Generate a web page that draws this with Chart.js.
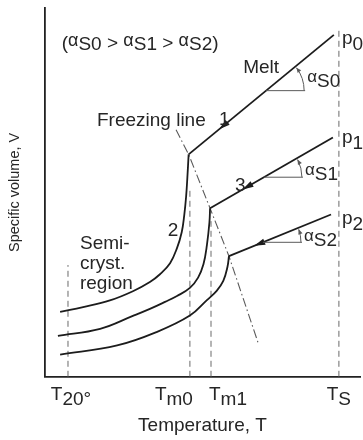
<!DOCTYPE html>
<html>
<head>
<meta charset="utf-8">
<style>
  html, body { margin: 0; padding: 0; background: #fff; }
  canvas { display: block; }
</style>
<script src="https://cdn.jsdelivr.net/npm/chart.js@4.4.1/dist/chart.umd.min.js"></script>
</head>
<body>
<canvas id="pvt" width="363" height="440"></canvas>
<script>
// Marked temperatures on the T axis (arbitrary units)
const tickTemps = [7.3, 46.0, 52.7, 93.3];
const tickMain  = ['T', 'T', 'T', 'T'];
const tickSub   = ['20°', 'm0', 'm1', 'S'];
// Height (V units) at which each vertical guide starts
const guideTops = [30.3, 51.4, 42.2, 94.0];

// Melt lines: cooling from T_S down to the freezing point, at p0 > p1 > p2
const meltT0 = [45.6, 91.7];
const meltV0 = [60.3, 92.7];
const meltT1 = [52.4, 91.4];
const meltV1 = [45.7, 64.9];
const meltT2 = [58.4, 90.8];
const meltV2 = [32.7, 44.0];

// Solidification curves (semi-crystalline region) for each pressure
const solidT0 = [4.8, 12.1, 20.6, 27.9, 33.3, 36.5, 39.7, 41.9, 43.4, 44.2, 44.8, 45.2, 45.6];
const solidV0 = [17.6, 18.9, 20.7, 23.2, 25.7, 27.8, 30.8, 34.9, 39.2, 43.8, 48.9, 54.1, 60.3];
const solidT1 = [4.1, 17.5, 27.9, 33.3, 38.1, 41.9, 46.0, 48.6, 50.3, 51.4, 52.2, 52.4];
const solidV1 = [11.1, 13.0, 16.5, 18.4, 20.3, 21.9, 24.1, 26.9, 30.5, 35.7, 41.9, 45.7];
const solidT2 = [4.8, 22.9, 35.6, 46.0, 51.4, 54.5, 56.6, 57.9, 58.4];
const solidV2 = [6.0, 8.5, 12.2, 16.6, 20.8, 23.3, 26.0, 29.7, 32.7];

// Freezing line through the onset of crystallisation
const freezeT = [41.6, 45.6, 52.4, 58.4, 67.9];
const freezeV = [67.0, 60.3, 45.7, 32.7, 8.6];

// Where the cooling-direction arrows and the slope angles sit on each melt line (T units)
const arrowT = [56.5, 64.1, 67.9];
const angleT = [70.2, 69.5, 69.2];

const FONT = "'Liberation Sans', Arial, Helvetica, sans-serif";
const INK = '#1c1c1c';
const TEXT = '#262626';
const GREY = '#5a5a5a';
const FS = 19;

const pts = (xs, ys) => xs.map((x, i) => ({ x, y: ys[i] }));
const melts = [[meltT0, meltV0], [meltT1, meltV1], [meltT2, meltV2]];

const datasets = [];
melts.forEach(([t, v], i) => datasets.push({
  label: 'melt p' + i, data: pts(t, v), borderColor: INK, borderWidth: 1.8, tension: 0
}));
[[solidT0, solidV0], [solidT1, solidV1], [solidT2, solidV2]].forEach(([t, v], i) => datasets.push({
  label: 'solid p' + i, data: pts(t, v), borderColor: INK, borderWidth: 1.8, tension: 0.4
}));
datasets.push({
  label: 'Freezing line', data: pts(freezeT, freezeV), borderColor: GREY, borderWidth: 1.1,
  borderDash: [9, 3, 1.5, 3], tension: 0
});
tickTemps.forEach((t, i) => datasets.push({
  label: 'guide ' + i, data: [{ x: t, y: 0 }, { x: t, y: guideTops[i] }],
  borderColor: '#6a6a6a', borderWidth: 1, borderDash: [6, 4], tension: 0
}));

// draw a run of text pieces: [text, fontSize, baselineShift]
function rich(ctx, x, y, parts, align) {
  let w = 0;
  parts.forEach(p => { ctx.font = p[1] + 'px ' + FONT; w += ctx.measureText(p[0]).width; });
  let cx = align === 'center' ? x - w / 2 : align === 'right' ? x - w : x;
  ctx.textAlign = 'left';
  ctx.textBaseline = 'alphabetic';
  parts.forEach(p => {
    ctx.font = p[1] + 'px ' + FONT;
    ctx.fillText(p[0], cx, y + (p[2] || 0));
    cx += ctx.measureText(p[0]).width;
  });
}

function head(ctx, x, y, ang, len, half) {
  const c = Math.cos(ang), s = Math.sin(ang);
  ctx.beginPath();
  ctx.moveTo(x, y);
  ctx.lineTo(x - len * c + half * s, y - len * s - half * c);
  ctx.lineTo(x - len * c - half * s, y - len * s + half * c);
  ctx.closePath();
  ctx.fill();
}

// free labels, anchored in axis units
const notes = [
  { t: 5.3, v: 88.9, parts: [['(', FS], ['α', 18, -3], ['S0', FS, 1], [' > ', FS], ['α', 18, -3], ['S1', FS, 1], [' > ', FS], ['α', 18, -3], ['S2', FS, 1], [')', FS]] },
  { t: 62.9, v: 82.4, parts: [['Melt', FS]] },
  { t: 16.5, v: 68.1, parts: [['Freezing line', FS]] },
  { t: 55.2, v: 68.4, parts: [['1', FS]] },
  { t: 60.3, v: 50.3, parts: [['3', FS]] },
  { t: 39.0, v: 38.1, parts: [['2', FS]] },
  { t: 11.1, v: 34.6, parts: [['Semi-', FS]] },
  { t: 11.1, v: 29.2, parts: [['cryst.', FS]] },
  { t: 11.1, v: 23.8, parts: [['region', FS]] }
];
const angleNames = ['S0', 'S1', 'S2'];
const angleShift = [-4, 3, 4];
const pShift = [9.5, 5.5, 9.5];
const tickAlign = ['center', 'right', 'left', 'center'];
const tickNudge = [3, 3, -2, 0];

const annotations = {
  id: 'annotations',
  afterDatasetsDraw(chart) {
    const { ctx, chartArea } = chart;
    const xs = chart.scales.x, ys = chart.scales.y;
    ctx.save();

    melts.forEach(([t, v], i) => {
      const x0 = xs.getPixelForValue(t[0]), y0 = ys.getPixelForValue(v[0]);
      const x1 = xs.getPixelForValue(t[1]), y1 = ys.getPixelForValue(v[1]);
      const up = Math.atan2(y1 - y0, x1 - x0);
      const along = (tv) => {
        const f = (tv - t[0]) / (t[1] - t[0]);
        return [x0 + f * (x1 - x0), y0 + f * (y1 - y0)];
      };
      // cooling direction arrow
      const [ax, ay] = along(arrowT[i]);
      ctx.fillStyle = INK;
      const down = up + Math.PI;
      head(ctx, ax + 5 * Math.cos(down), ay + 5 * Math.sin(down), down, 11, 3.2);

      // slope angle alpha_S
      const [gx, gy] = along(angleT[i]);
      const r = 38;
      ctx.strokeStyle = GREY;
      ctx.fillStyle = GREY;
      ctx.lineWidth = 1;
      ctx.beginPath();
      ctx.moveTo(gx, gy);
      ctx.lineTo(gx + r + 1, gy);
      ctx.stroke();
      ctx.beginPath();
      ctx.arc(gx, gy, r, up + 0.04, 0);
      ctx.stroke();
      const ex = gx + r * Math.cos(up + 0.04), ey = gy + r * Math.sin(up + 0.04);
      head(ctx, ex, ey, up + 0.04 - Math.PI / 2, 5, 2.2);
      ctx.fillStyle = TEXT;
      rich(ctx, gx + r + 3, gy + angleShift[i], [['α', 17, -5], [angleNames[i], FS]], 'left');

      // pressure label at T_S
      const px = xs.getPixelForValue(tickTemps[3]) + 3;
      rich(ctx, px, y1 + pShift[i], [['p', FS], [String(i), FS, 6]], 'left');
    });

    ctx.fillStyle = TEXT;
    notes.forEach(n => rich(ctx, xs.getPixelForValue(n.t), ys.getPixelForValue(n.v), n.parts, 'left'));

    // temperature labels under the axis
    tickTemps.forEach((t, i) => {
      const x = xs.getPixelForValue(t) + tickNudge[i];
      rich(ctx, x, chartArea.bottom + 23, [[tickMain[i], FS], [tickSub[i], FS, 5]], tickAlign[i]);
    });
    ctx.restore();
  }
};

new Chart(document.getElementById('pvt'), {
  type: 'scatter',
  data: { datasets },
  options: {
    responsive: false,
    animation: false,
    showLine: true,
    layout: { padding: { left: 0, right: 3, top: 8, bottom: 2.4 } },
    elements: { point: { radius: 0, hoverRadius: 0 }, line: { fill: false } },
    plugins: { legend: { display: false }, tooltip: { enabled: false } },
    scales: {
      x: {
        type: 'linear', min: 0, max: 100,
        grid: { display: false, drawTicks: false },
        ticks: { display: false },
        border: { display: true, color: '#222', width: 1.8 },
        title: { display: true, text: 'Temperature, T', color: TEXT,
                 font: { family: FONT, size: FS }, padding: { top: 38, bottom: 0 } }
      },
      y: {
        type: 'linear', min: 0, max: 100,
        grid: { display: false, drawTicks: false },
        ticks: { display: false },
        border: { display: true, color: '#222', width: 1.8 },
        title: { display: true, text: 'Specific volume, V', color: TEXT,
                 font: { family: FONT, size: 14.5 }, padding: { top: 6, bottom: 21.6 } }
      }
    }
  },
  plugins: [annotations]
});
</script>
</body>
</html>
